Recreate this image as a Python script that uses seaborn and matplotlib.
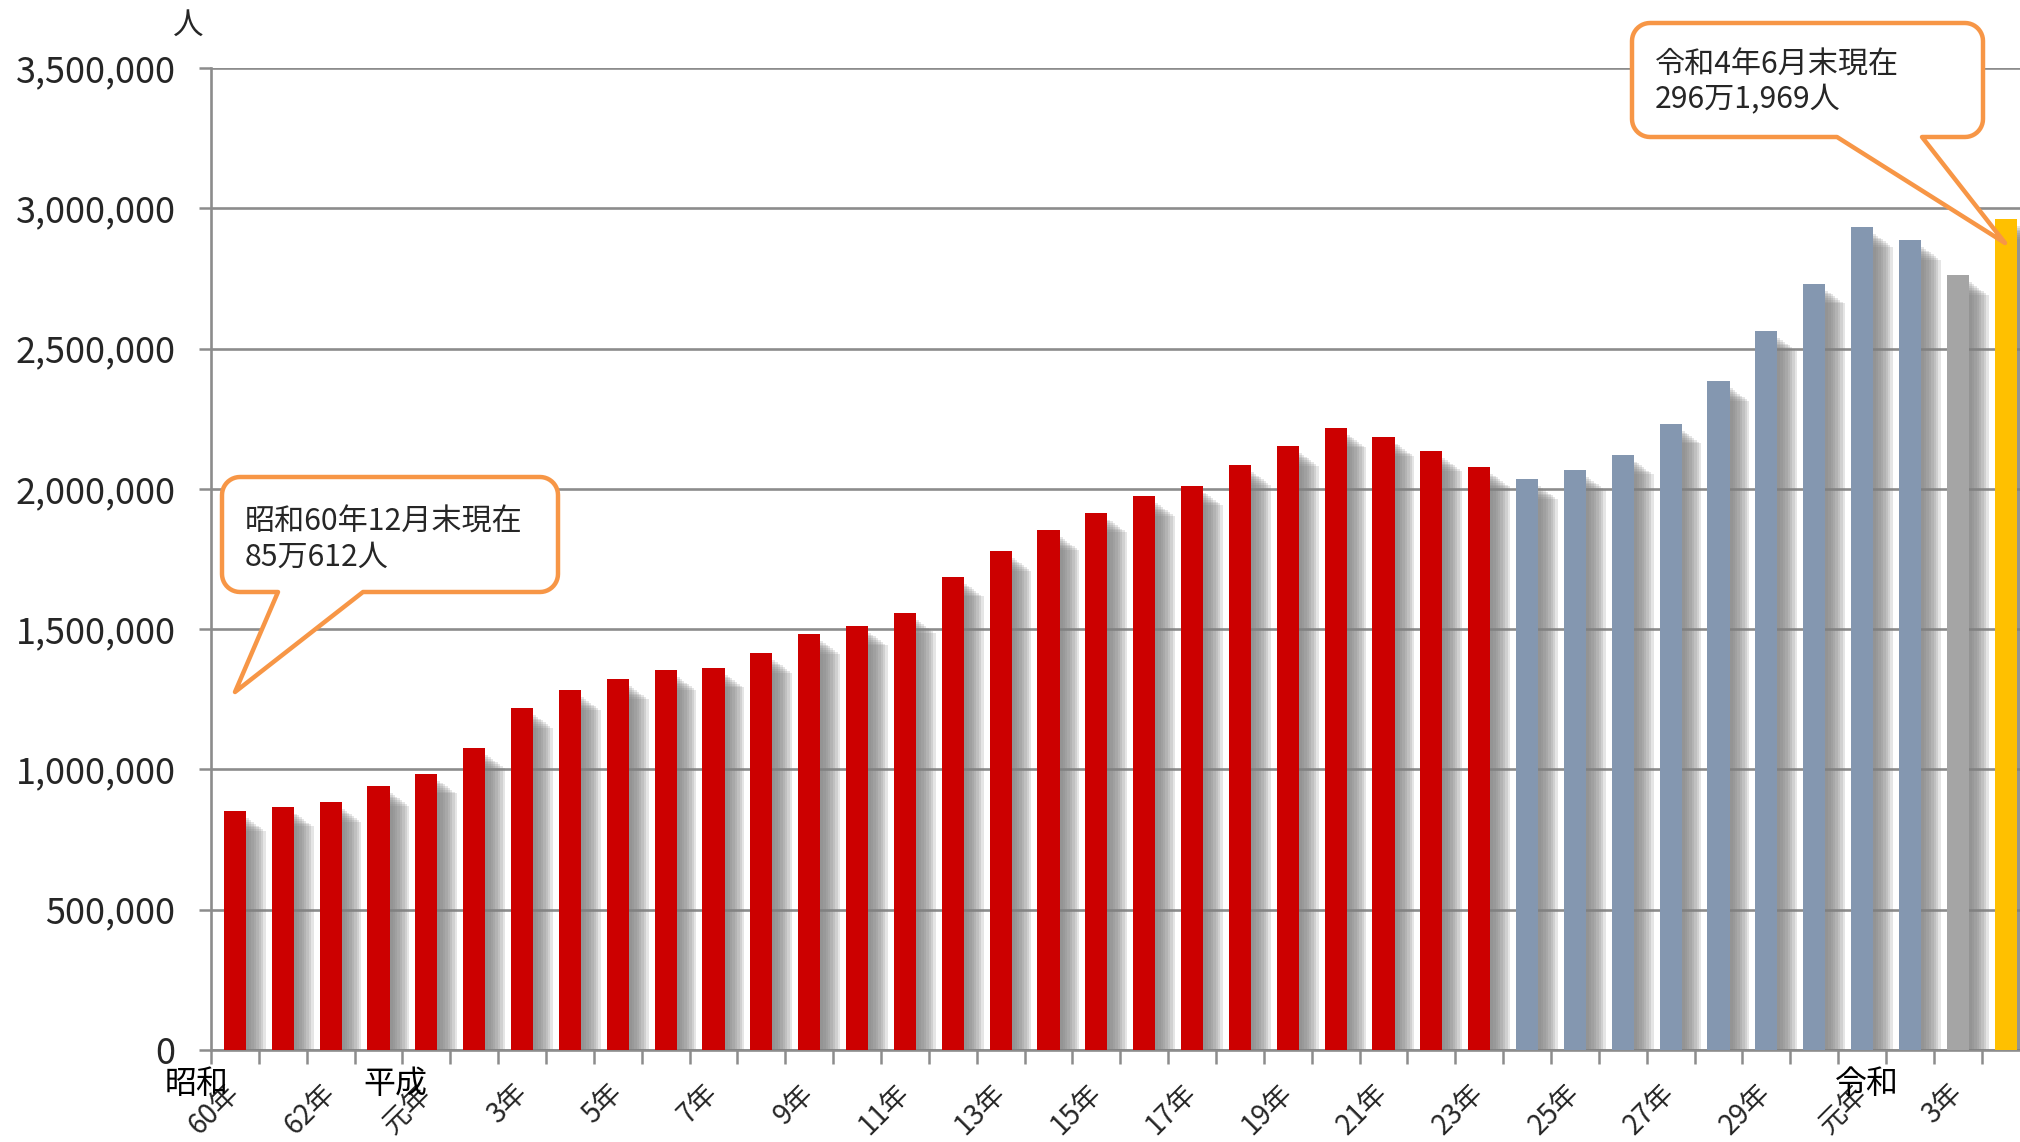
import numpy as np
import pandas as pd
import matplotlib
matplotlib.use("Agg")
import matplotlib.pyplot as plt
from matplotlib import patheffects as pe
from matplotlib.patches import Polygon
from matplotlib.transforms import blended_transform_factory
from matplotlib.ticker import FuncFormatter, FixedLocator
import seaborn as sns

# ---------------- data ----------------
eras = ["昭和"] * 4 + ["平成"] * 30 + ["令和"] * 4
years = [60, 61, 62, 63,
         1, 2, 3, 4, 5, 6, 7, 8, 9, 10, 11, 12, 13, 14, 15, 16, 17, 18, 19, 20,
         21, 22, 23, 24, 25, 26, 27, 28, 29, 30,
         1, 2, 3, 4]
values = [850612, 867237, 884025, 941005,
          984455, 1075317, 1218891, 1281644, 1320748, 1354011, 1362371, 1415136,
          1482707, 1512116, 1556113, 1686444, 1778462, 1851758, 1915030, 1973747,
          2011555, 2084919, 2152973, 2217426, 2186121, 2134151, 2078508, 2033656,
          2066445, 2121831, 2232189, 2382822, 2561848, 2731093,
          2933137, 2887116, 2760635, 2961969]
groups = (["平成23年末まで"] * 27 + ["平成24年末〜令和2年末"] * 9
          + ["令和3年末"] + ["令和4年6月末"])
tick_labels = ["60年", "62年", "元年", "3年", "5年", "7年", "9年", "11年", "13年",
               "15年", "17年", "19年", "21年", "23年", "25年", "27年", "29年",
               "元年", "3年"]
era_labels = ["昭和", "平成", "令和"]
palette = {"平成23年末まで": "#CC0000",
           "平成24年末〜令和2年末": "#8497B0",
           "令和3年末": "#A5A5A5",
           "令和4年6月末": "#FFC000"}
callout_first = ["昭和60年12月末現在", "85万612人"]
callout_last = ["令和4年6月末現在", "296万1,969人"]

keys = [f"{e}{y}" for e, y in zip(eras, years)]
df = pd.DataFrame({"key": keys, "value": values, "group": groups})

# ---------------- style ----------------
sns.set_theme(style="white")
plt.rcParams["font.family"] = ["Noto Sans CJK JP", "DejaVu Sans"]

W, H = 2020, 1142
fig = plt.figure(figsize=(W / 100, H / 100), dpi=100)
fig.patch.set_facecolor("white")
ax = fig.add_axes([211 / W, 1 - 1050 / H, 1 - 211 / W, (1050 - 68) / H])

sns.barplot(data=df, x="key", y="value", hue="group", palette=palette,
            dodge=False, width=0.46, saturation=1, legend=False, ax=ax,
            zorder=3)

# soft shadow (layered offsets)
shadow = [pe.SimplePatchShadow(offset=((3 + 2.4 * i) * 0.72, -(7 + 1.8 * i) * 0.72),
                               shadow_rgbFace="#808080", alpha=0.2)
          for i in range(8)]
for p in ax.patches:
    p.set_edgecolor("none")
    p.set_path_effects(shadow + [pe.Normal()])

grid_col = "#8c8c8c"
ax.set_ylim(0, 3500000)
ax.set_xlim(-0.5, 37.3)
ax.yaxis.set_major_locator(FixedLocator(np.arange(0, 3500001, 500000)))
ax.yaxis.set_major_formatter(FuncFormatter(lambda v, _: f"{int(v):,}"))
ax.grid(axis="y", color=grid_col, linewidth=1.9)
ax.set_axisbelow(True)
ax.set_xlabel("")
ax.set_ylabel("")

for s in ["top", "right"]:
    ax.spines[s].set_visible(False)
for s in ["left", "bottom"]:
    ax.spines[s].set_color(grid_col)
    ax.spines[s].set_linewidth(1.9)

ax.tick_params(axis="y", which="major", length=8.6, width=1.8, color=grid_col,
               pad=17, labelsize=26, left=True)
ax.set_xticks(range(0, len(keys), 2))
ax.set_xticklabels(tick_labels, rotation=45, ha="right", va="center",
                   rotation_mode="anchor", fontsize=20)
ax.tick_params(axis="x", which="major", length=0, pad=28, bottom=True)
ax.xaxis.set_minor_locator(FixedLocator(np.arange(-0.5, len(keys), 1.0)))
ax.tick_params(axis="x", which="minor", length=10, width=1.8, color=grid_col,
               bottom=True)

# era labels below the axis
bt = blended_transform_factory(ax.transData, fig.transFigure)
era_pos = [-0.8, 3.36, 34.1]
for lab, xp in zip(era_labels, era_pos):
    ax.text(xp, 1 - 1084 / H, lab, transform=bt, ha="center", va="center",
            fontsize=23, color="black", clip_on=False)

fig.text(188 / W, 1 - 25 / H, "人", ha="center", va="center", fontsize=22)


# ---------------- callouts ----------------
def arc(cx, cy, r, a0, a1, n=12):
    t = np.radians(np.linspace(a0, a1, n))
    return list(zip(cx + r * np.cos(t), cy + r * np.sin(t)))


def callout(x0, y0, x1, y1, r, bl, br, tip):
    pts = []
    pts += arc(x0 + r, y0 + r, r, 180, 270)
    pts += arc(x1 - r, y0 + r, r, 270, 360)
    pts += arc(x1 - r, y1 - r, r, 0, 90)
    pts += [(br, y1), tip, (bl, y1)]
    pts += arc(x0 + r, y1 - r, r, 90, 180)
    fp = [(x / W, 1 - y / H) for x, y in pts]
    poly = Polygon(fp, closed=True, transform=fig.transFigure,
                   facecolor="white", edgecolor="#F79646", linewidth=3.2,
                   joinstyle="round", zorder=10)
    fig.add_artist(poly)


callout(222, 477, 558, 592, 18, 278, 363, (235, 692))
fig.text(245 / W, 1 - 522 / H, callout_first[0], ha="left", va="center",
         fontsize=21.7, zorder=11)
fig.text(245 / W, 1 - 557 / H, callout_first[1], ha="left", va="center",
         fontsize=21.7, zorder=11)

callout(1632, 23, 1983, 137, 18, 1837, 1922, (2005, 243))
fig.text(1655 / W, 1 - 65 / H, callout_last[0], ha="left", va="center",
         fontsize=21.7, zorder=11)
fig.text(1655 / W, 1 - 100 / H, callout_last[1], ha="left", va="center",
         fontsize=21.7, zorder=11)

fig.savefig("out.png", dpi=100, facecolor="white")
